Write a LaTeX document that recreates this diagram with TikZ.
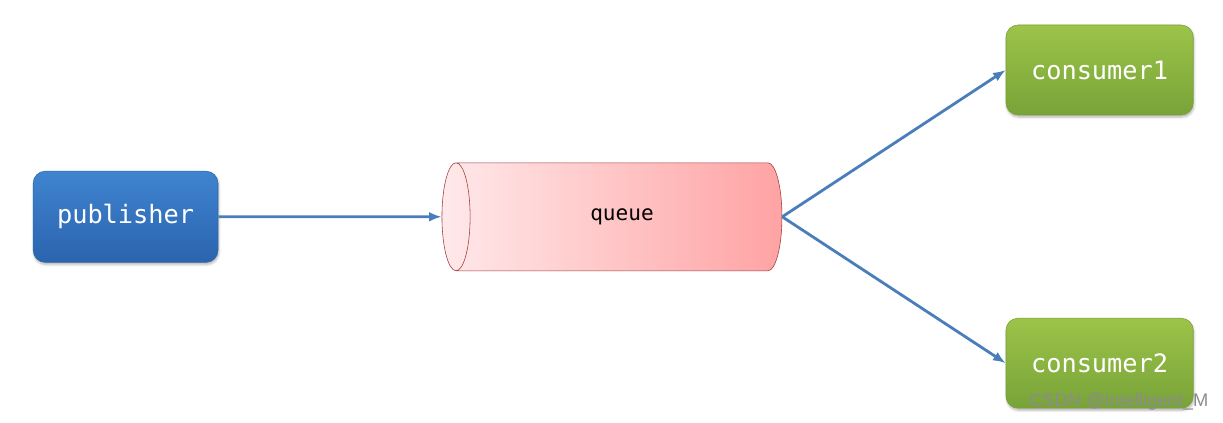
\documentclass[tikz,border=0pt]{standalone}
\usepackage{fontspec}
\setmonofont{DejaVu Sans Mono}
\newfontfamily\marksans{Liberation Sans}
\usetikzlibrary{positioning, shapes.geometric, arrows.meta, shadows.blur}
\definecolor{pubtop}{HTML}{3F84D0}
\definecolor{pubbot}{HTML}{2B63AE}
\definecolor{contop}{HTML}{9CC449}
\definecolor{conbot}{HTML}{78A338}
\definecolor{qleft}{HTML}{FFE9EA}
\definecolor{qright}{HTML}{FFA3A4}
\definecolor{qline}{HTML}{9E3B3B}
\definecolor{link}{HTML}{4A7EBB}
\tikzset{>={Latex[length=9pt,width=7pt]}}
\tikzset{
    producer/.style = {rectangle, rounded corners=0.3cm, top color=pubtop, bottom color=pubbot,
                        draw=pubtop!80!black, thin, minimum width=4.62cm, minimum height=2.28cm,
                        text=white, font=\ttfamily\fontsize{18}{21}\selectfont,
                        blur shadow={shadow blur steps=5, shadow xshift=0.5pt, shadow yshift=-1.5pt, shadow opacity=30}},
    worker/.style = {producer, top color=contop, bottom color=conbot, draw=contop!80!black,
                        minimum width=4.68cm, minimum height=2.25cm},
    store/.style = {cylinder, shape border rotate=180, aspect=1.1, draw=qline, thin,
                        left color=qleft, right color=qright, minimum width=2.7cm, minimum height=8.5cm,
                        cylinder uses custom fill, cylinder end fill=qleft!40!white,
                        font=\ttfamily\fontsize{15}{18}\selectfont},
    flow/.style = {->, draw=link, line width=2pt}
}
\begin{document}
\begin{tikzpicture}[scale=1]
		\useasboundingbox (0,0) rectangle (30.575,-10.575);
		\node (pub) [producer] at (3.14,-5.42) {publisher};
		\node (queue) [store] at (15.55,-5.42) {queue};
		\node (c1) [worker] at (27.49,-1.75) {consumer1};
		\node (c2) [worker] at (27.49,-9.08) {consumer2};
		\draw [flow] (pub) to (queue);
		\draw [flow] (queue.east) to (c1.west);
		\draw [flow] (queue.east) to (c2.west);
		\node (mark) at (27.97,-10.05) {\marksans\fontsize{13}{15}\selectfont\color{black!45}CSDN @Intelligent\_M};
	\end{tikzpicture}
\end{document}
